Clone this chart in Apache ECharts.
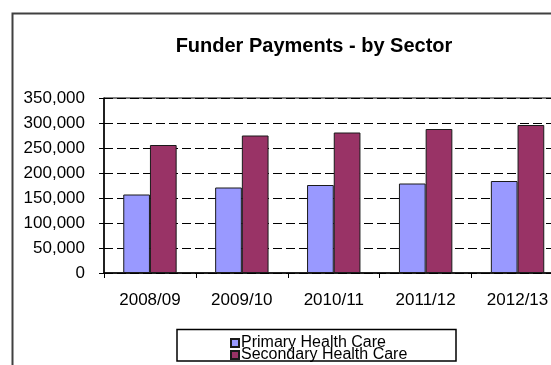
<!DOCTYPE html>
<html>
<head>
<meta charset="utf-8">
<script src="https://cdn.jsdelivr.net/npm/echarts@6/dist/echarts.min.js"></script>
<style>
  html, body { margin: 0; padding: 0; background: #fff; }
  #chart { width: 551px; height: 365px; }
</style>
</head>
<body>
<div id="chart"></div>
<script>
// Funder payments per financial year, split by sector
const years = ['2008/09', '2009/10', '2010/11', '2011/12', '2012/13'];
const primaryHealthCare = [157000, 171000, 176000, 179000, 184000];
const secondaryHealthCare = [256000, 275000, 281000, 288000, 296000];
const yTicks = { min: 0, max: 350000, interval: 50000 };

const FONT = '"Liberation Sans", Arial, sans-serif';

const chart = echarts.init(document.getElementById('chart'), null, { renderer: 'canvas' });

chart.setOption({
  animation: false,
  backgroundColor: '#ffffff',
  title: {
    text: 'Funder Payments - by Sector',
    left: 309,
    textAlign: 'center',
    top: 31,
    textStyle: { fontFamily: FONT, fontSize: 20, fontWeight: 'bold', color: '#000' }
  },
  // plot area runs past the right edge of the canvas
  grid: {
    left: 104,
    top: 98,
    width: 459.5,
    bottom: 92,
    outerBoundsMode: 'none',
    containLabel: false,
    show: true,
    borderColor: '#000',
    borderWidth: 1,
    backgroundColor: 'transparent'
  },
  xAxis: {
    type: 'category',
    data: years,
    axisLine: { lineStyle: { color: '#000', width: 1.5 } },
    axisTick: { show: true, length: 5, lineStyle: { color: '#000' } },
    axisLabel: { fontFamily: FONT, fontSize: 17, color: '#000', margin: 19 },
    splitLine: { show: false }
  },
  yAxis: {
    type: 'value',
    min: yTicks.min,
    max: yTicks.max,
    interval: yTicks.interval,
    axisLine: { show: true, lineStyle: { color: '#000', width: 1.5 } },
    axisTick: { show: true, length: 5, lineStyle: { color: '#000' } },
    axisLabel: {
      fontFamily: FONT, fontSize: 17, color: '#000', margin: 19,
      formatter: v => v.toLocaleString('en-US')
    },
    splitLine: { show: true, lineStyle: { color: '#000', width: 1, type: [9, 4] } }
  },
  legend: {
    orient: 'vertical',
    left: 230,
    top: 335,
    height: 100,
    itemWidth: 8,
    itemHeight: 8,
    itemGap: -4,
    icon: 'rect',
    padding: 0,
    textStyle: { fontFamily: FONT, fontSize: 16, color: '#000', lineHeight: 12.3, padding: [0, 0, 0, -3] },
    data: ['Primary Health Care', 'Secondary Health Care']
  },
  series: [
    {
      name: 'Primary Health Care',
      type: 'bar',
      data: primaryHealthCare,
      barWidth: 26.7,
      barGap: '0%',
      itemStyle: { color: '#9999FF', borderColor: '#1a1a1a', borderWidth: 1 }
    },
    {
      name: 'Secondary Health Care',
      type: 'bar',
      data: secondaryHealthCare,
      barWidth: 26.7,
      barGap: '0%',
      itemStyle: { color: '#993366', borderColor: '#1a1a1a', borderWidth: 1 }
    }
  ],
  graphic: [
    {
      type: 'rect',
      z: 100,
      shape: { x: 12.5, y: 13.5, width: 700, height: 500 },
      style: { fill: 'none', stroke: '#404040', lineWidth: 2 }
    },
    {
      type: 'rect',
      z: 100,
      shape: { x: 177, y: 329.5, width: 279, height: 31.5 },
      style: { fill: 'none', stroke: '#000', lineWidth: 1.5 }
    }
  ]
});
</script>
</body>
</html>
